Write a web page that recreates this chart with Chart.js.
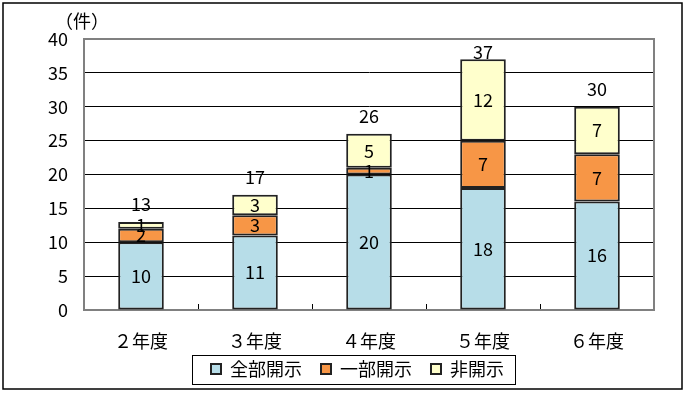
<!DOCTYPE html>
<html>
<head>
<meta charset="utf-8">
<script src="https://cdn.jsdelivr.net/npm/chart.js@4"></script>
<style>
  body { margin: 0; background: #fff; }
  canvas { display: block; }
</style>
</head>
<body>
<canvas id="chart" width="685" height="393"></canvas>
<script>
const categories = ["２年度", "３年度", "４年度", "５年度", "６年度"];
const zenbuKaiji = [10, 11, 20, 18, 16];
const ichibuKaiji = [2, 3, 1, 7, 7];
const hiKaiji = [1, 3, 5, 12, 7];
const seriesNames = ["全部開示", "一部開示", "非開示"];

const FONT = "'Noto Sans CJK JP', 'Noto Sans', sans-serif";
Chart.defaults.font.family = FONT;
Chart.defaults.color = "#000";

// labels inside segments and totals above each bar
const barLabels = {
  id: "barLabels",
  afterDatasetsDraw(chart) {
    const ctx = chart.ctx;
    ctx.save();
    ctx.font = "18px " + FONT;
    ctx.fillStyle = "#000";
    ctx.textAlign = "center";
    ctx.textBaseline = "middle";
    chart.data.datasets.forEach((ds, i) => {
      chart.getDatasetMeta(i).data.forEach((bar, j) => {
        ctx.fillText(ds.data[j], bar.x, (bar.y + bar.base) / 2);
      });
    });
    const last = chart.getDatasetMeta(chart.data.datasets.length - 1).data;
    last.forEach((bar, j) => {
      const total = zenbuKaiji[j] + ichibuKaiji[j] + hiKaiji[j];
      ctx.fillText(total, bar.x, Math.max(bar.y - 18, 52));
    });
    ctx.restore();
  }
};

// frame, unit text, legend box, outer border
const decorations = {
  id: "decorations",
  beforeDatasetsDraw(chart) {
    const { ctx, chartArea: a } = chart;
    ctx.save();
    ctx.strokeStyle = "#808080";
    ctx.lineWidth = 2;
    ctx.strokeRect(a.left, a.top, a.right - a.left, a.bottom - a.top);
    ctx.restore();
  },
  afterDraw(chart) {
    const ctx = chart.ctx;
    ctx.save();
    ctx.font = "18px " + FONT;
    ctx.fillStyle = "#000";
    ctx.textAlign = "center";
    ctx.textBaseline = "middle";
    ctx.fillText("（件）", 82, 21);

    const boxes = chart.legend.legendHitBoxes;
    if (boxes && boxes.length) {
      const l = Math.min(...boxes.map(b => b.left)) - 19;
      const r = Math.max(...boxes.map(b => b.left + b.width)) + 11;
      const t = boxes[0].top - 5;
      ctx.strokeStyle = "#000";
      ctx.lineWidth = 1;
      ctx.strokeRect(Math.round(l) + 0.5, Math.round(t) + 0.5, Math.round(r - l), 29);
    }

    ctx.strokeStyle = "#000";
    ctx.lineWidth = 1.5;
    ctx.strokeRect(3, 3, 679, 386);
    ctx.restore();
  }
};

new Chart(document.getElementById("chart"), {
  type: "bar",
  data: {
    labels: categories,
    datasets: [
      { label: seriesNames[0], data: zenbuKaiji, backgroundColor: "#B7DDE8" },
      { label: seriesNames[1], data: ichibuKaiji, backgroundColor: "#F79646" },
      { label: seriesNames[2], data: hiKaiji, backgroundColor: "#FFFFCC" }
    ].map(ds => Object.assign(ds, {
      borderColor: "#222",
      borderWidth: 2,
      borderSkipped: false,
      barPercentage: 0.4,
      categoryPercentage: 1
    }))
  },
  options: {
    responsive: false,
    animation: false,
    layout: { padding: { top: 39, right: 0, bottom: 5, left: 30 } },
    plugins: {
      tooltip: { enabled: false },
      legend: {
        position: "bottom",
        // empty title with negative padding pulls the items up so the
        // horizontal gap between items can stay wide
        title: { display: true, text: "", font: { size: 10 }, padding: { top: -23, bottom: 0 } },
        labels: {
          boxWidth: 10,
          boxHeight: 10,
          padding: 19,
          font: { size: 18 },
          color: "#000"
        }
      }
    },
    scales: {
      x: {
        stacked: true,
        afterFit: s => { s.height = 42; },
        grid: {
          drawOnChartArea: false,
          drawTicks: true,
          tickLength: -6,
          color: "#000"
        },
        border: { color: "#404040", width: 2 },
        ticks: { font: { size: 18 }, padding: 26, color: "#000" }
      },
      y: {
        stacked: true,
        min: 0,
        max: 40,
        afterFit: s => { s.width = 54; },
        grid: { color: "#000", lineWidth: 1, drawTicks: false },
        border: { color: "#404040", width: 2 },
        ticks: { stepSize: 5, font: { size: 18 }, padding: 16, color: "#000" }
      },
      // empty right-hand strip, keeps the plot off the right edge
      yRight: {
        position: "right",
        afterFit: s => { s.width = 31; },
        grid: { display: false },
        border: { display: false },
        ticks: { display: false }
      }
    }
  },
  plugins: [barLabels, decorations]
});
</script>
</body>
</html>
